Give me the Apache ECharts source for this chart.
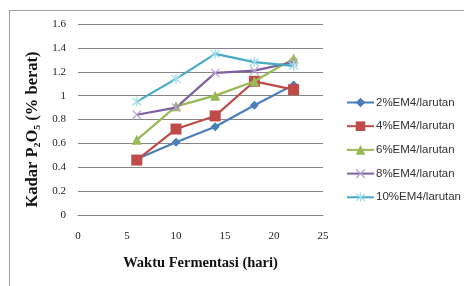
<!DOCTYPE html>
<html>
<head>
<meta charset="utf-8">
<script src="https://cdn.jsdelivr.net/npm/echarts@6/dist/echarts.min.js"></script>
<style>
  html, body { margin: 0; padding: 0; background: #fff; }
  #frame { position: absolute; left: 9px; top: 10px; width: 470px; height: 290px; border: 1px solid #a0a0a0; }
  #chart { position: absolute; left: 0; top: 0; width: 464px; height: 286px; }
</style>
</head>
<body>
<div id="frame"></div>
<div id="chart"></div>
<script>
// data
const days = [6, 10, 14, 18, 22];
const names = ["2%EM4/larutan", "4%EM4/larutan", "6%EM4/larutan", "8%EM4/larutan", "10%EM4/larutan"];
const em2 = [0.47, 0.61, 0.74, 0.92, 1.09];
const em4 = [0.46, 0.72, 0.83, 1.12, 1.05];
const em6 = [0.63, 0.91, 1.0, 1.12, 1.31];
const em8 = [0.84, 0.9, 1.19, 1.21, 1.28];
const em10 = [0.95, 1.14, 1.35, 1.28, 1.25];

const crossPath = "path://M0,1 L1,0 L5,4 L9,0 L10,1 L6,5 L10,9 L9,10 L5,6 L1,10 L0,9 L4,5 Z";
const starPath = "path://M0,1 L1,0 L5,4 L9,0 L10,1 L6,5 L10,9 L9,10 L5,6 L1,10 L0,9 L4,5 Z M4.4,-1 L5.6,-1 L5.6,11 L4.4,11 Z";

const styles = [
  { line: "#4a7ebb", mark: "#4a7ebb", symbol: "diamond", size: 9 },
  { line: "#be4b48", mark: "#be4b48", symbol: "rect", size: 11 },
  { line: "#98b954", mark: "#98b954", symbol: "triangle", size: 10 },
  { line: "#7d60a0", mark: "#b9a6d2", symbol: crossPath, size: 9 },
  { line: "#46aac5", mark: "#9fdcec", symbol: starPath, size: 10 },
];

const allData = [em2, em4, em6, em8, em10];

const chart = echarts.init(document.getElementById("chart"));

const series = allData.map((vals, i) => ({
  name: names[i],
  type: "line",
  data: vals.map((v, j) => [days[j], v]),
  symbol: styles[i].symbol,
  symbolSize: styles[i].size,
  lineStyle: { color: styles[i].line, width: 2.2 },
  itemStyle: { color: styles[i].mark },
  z: 2 + i,
}));

chart.setOption({
  animation: false,
  grid: { left: 78, right: 141, top: 24, bottom: 71, outerBoundsMode: "none" },
  legend: {
    orient: "vertical",
    left: 346,
    top: 96.5,
    padding: 0,
    itemWidth: 27,
    itemHeight: 12,
    itemGap: 11.7,
    data: names,
    textStyle: { fontFamily: "Liberation Sans", fontSize: 11.5, color: "#333", padding: [0, 0, 0, -3] },
  },
  xAxis: {
    type: "value",
    min: 0,
    max: 25,
    interval: 5,
    name: "Waktu Fermentasi (hari)",
    nameLocation: "middle",
    nameGap: 41,
    nameTextStyle: { fontFamily: "Liberation Serif", fontWeight: "bold", fontSize: 14.5, color: "#111" },
    axisLine: { show: true, lineStyle: { color: "#868686" } },
    axisTick: { show: false },
    splitLine: { show: false },
    axisLabel: { fontFamily: "Liberation Serif", fontSize: 11, color: "#222", margin: 16 },
  },
  yAxis: {
    type: "value",
    min: 0,
    max: 1.6,
    interval: 0.2,
    name: "Kadar P₂O₅ (% berat)",
    nameLocation: "middle",
    nameGap: 35,
    nameRotate: 90,
    nameTextStyle: { fontFamily: "Liberation Serif", fontWeight: "bold", fontSize: 16.5, color: "#111", padding: [0, 20, 0, 0] },
    axisLine: { show: false },
    axisTick: { show: false },
    splitLine: { lineStyle: { color: "#868686" } },
    axisLabel: { fontFamily: "Liberation Serif", fontSize: 11, color: "#222", margin: 12 },
  },
  series: series,
});
</script>
</body>
</html>
